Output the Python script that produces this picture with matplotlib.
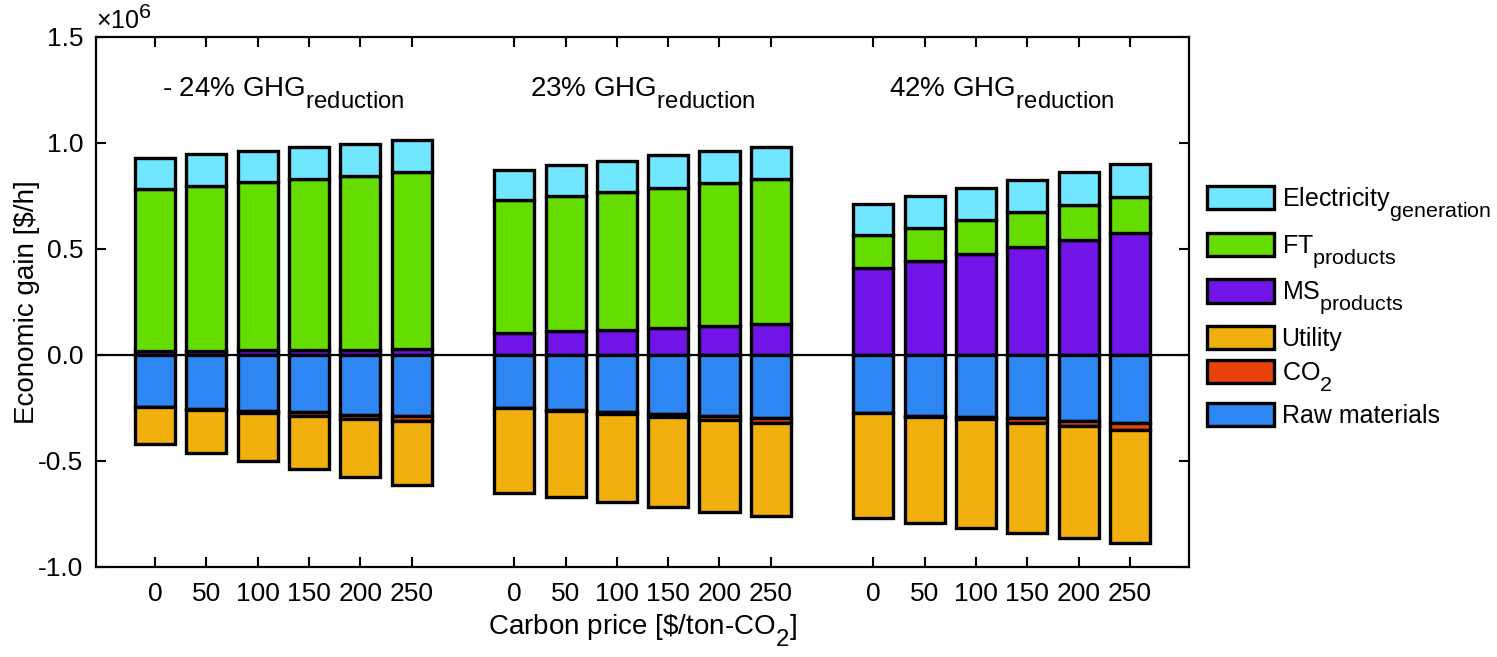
import numpy as np
import matplotlib
matplotlib.use("Agg")
import matplotlib.pyplot as plt
import matplotlib._mathtext as mathtext_impl
from matplotlib.ticker import FuncFormatter

plt.rcParams['font.family'] = ['Liberation Sans', 'DejaVu Sans']
plt.rcParams['mathtext.fontset'] = 'custom'
plt.rcParams['mathtext.rm'] = 'Liberation Sans'
plt.rcParams['mathtext.it'] = 'Liberation Sans:italic'
plt.rcParams['axes.unicode_minus'] = False
# MATLAB-style sub/superscripts: nearly full size, dropped well below baseline
mathtext_impl.SHRINK_FACTOR = 0.86
mathtext_impl.FontConstantsBase.sub1 = 0.85

# carbon price categories and scenario labels
prices = ["0", "50", "100", "150", "200", "250"]
scenarios = [r"- 24% GHG$_{\mathrm{reduction}}$",
             r"23% GHG$_{\mathrm{reduction}}$",
             r"42% GHG$_{\mathrm{reduction}}$"]

# economic gain in 10^6 $/h, one row per scenario, one column per carbon price
ms_products = [[0.020, 0.021, 0.022, 0.023, 0.025, 0.027],
               [0.105, 0.113, 0.120, 0.129, 0.137, 0.146],
               [0.412, 0.442, 0.478, 0.511, 0.544, 0.575]]
ft_products = [[0.763, 0.778, 0.793, 0.807, 0.821, 0.838],
               [0.625, 0.636, 0.650, 0.660, 0.674, 0.683],
               [0.154, 0.158, 0.160, 0.162, 0.165, 0.170]]
electricity = [[0.146, 0.147, 0.148, 0.149, 0.150, 0.150],
               [0.144, 0.147, 0.147, 0.152, 0.150, 0.152],
               [0.146, 0.150, 0.150, 0.151, 0.154, 0.156]]
raw_materials = [[-0.244, -0.256, -0.264, -0.271, -0.281, -0.289],
                 [-0.249, -0.261, -0.268, -0.279, -0.288, -0.296],
                 [-0.274, -0.288, -0.292, -0.299, -0.310, -0.320]]
co2 = [[0.0, -0.004, -0.009, -0.015, -0.019, -0.023],
       [0.0, -0.004, -0.010, -0.014, -0.021, -0.024],
       [0.0, -0.003, -0.010, -0.021, -0.027, -0.033]]
utility = [[-0.175, -0.201, -0.226, -0.251, -0.275, -0.302],
           [-0.401, -0.406, -0.415, -0.423, -0.431, -0.440],
           [-0.494, -0.501, -0.513, -0.519, -0.526, -0.532]]

colors = {"el": "#70E6FF", "ft": "#66DD00", "ms": "#7014E8",
          "ut": "#F2B00F", "co2": "#E8420C", "raw": "#2E87F2"}

fig = plt.figure(figsize=(14.97, 6.57), dpi=100)
ax = fig.add_axes([0.0641, 0.137, 0.7302, 0.8067])

scale = 1e6
w = 0.78
ekw = dict(edgecolor="black", linewidth=2.4, width=w)
xt = []
for g in range(3):
    x = np.arange(1, 7) + 7 * g
    xt.extend(x)
    ms = np.array(ms_products[g]) * scale
    ft = np.array(ft_products[g]) * scale
    el = np.array(electricity[g]) * scale
    rw = np.array(raw_materials[g]) * scale
    c2 = np.array(co2[g]) * scale
    ut = np.array(utility[g]) * scale
    ax.bar(x, ms, color=colors["ms"], **ekw)
    ax.bar(x, ft, bottom=ms, color=colors["ft"], **ekw)
    ax.bar(x, el, bottom=ms + ft, color=colors["el"], **ekw)
    ax.bar(x, rw, color=colors["raw"], **ekw)
    ax.bar(x, c2, bottom=rw, color=colors["co2"], **ekw)
    ax.bar(x, ut, bottom=rw + c2, color=colors["ut"], **ekw)
    ax.text(x.mean(), 1.22e6, scenarios[g], ha="center", va="baseline", fontsize=20)

ax.axhline(0, color="black", linewidth=1.6, zorder=5)

ax.set_xlim(-0.15, 21.15)
ax.set_ylim(-1.0e6, 1.5e6)
ax.set_xticks(xt)
ax.set_xticklabels(prices * 3)
ax.set_yticks(np.arange(-1.0, 1.51, 0.5) * scale)
ax.yaxis.set_major_formatter(FuncFormatter(lambda v, p: f"{v / scale:.1f}"))
ax.text(0.0, 1.006, r"$\times\mathregular{10^{6}}$", transform=ax.transAxes,
        ha="left", va="bottom", fontsize=18)

ax.tick_params(direction="in", top=True, right=True, length=7, width=1.5, labelsize=19)
ax.tick_params(axis="y", pad=9)
ax.tick_params(axis="x", pad=11)
for s in ax.spines.values():
    s.set_linewidth(1.6)

ax.set_xlabel(r"Carbon price [\$/ton-CO$_2$]", fontsize=20, labelpad=4)
ax.set_ylabel("Economic gain [$/h]", fontsize=20, labelpad=-1)

# legend
names = [r"Electricity$_{\mathrm{generation}}$", r"FT$_{\mathrm{products}}$",
         r"MS$_{\mathrm{products}}$", "Utility", r"CO$_2$", "Raw materials"]
keys = ["el", "ft", "ms", "ut", "co2", "raw"]
handles = [plt.Rectangle((0, 0), 1, 1, facecolor=colors[k], edgecolor="black", linewidth=2.4)
           for k in keys]
fig.legend(handles, names, loc="upper left", bbox_to_anchor=(0.806, 0.718),
           frameon=False, fontsize=18, handlelength=2.7, handleheight=1.05,
           handletextpad=0.3, labelspacing=0.35, borderpad=0, borderaxespad=0)

fig.savefig("out.png", dpi=100)
